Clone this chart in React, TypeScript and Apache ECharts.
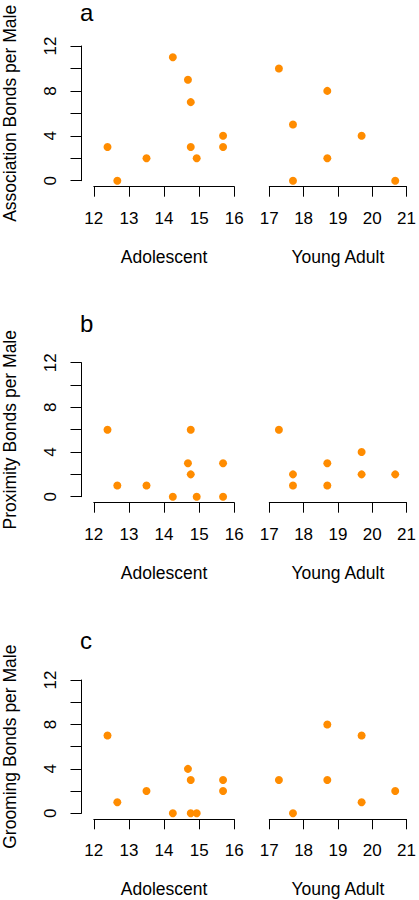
import React, { useEffect, useRef } from "react";
import * as echarts from "echarts";

// ---- data ----
const panelLetters = ["a", "b", "c"];
const yTitles = [
  "Association Bonds per Male",
  "Proximity Bonds per Male",
  "Grooming Bonds per Male",
];
const groupNames = ["Adolescent", "Young Adult"];
const yTicks = [0, 4, 8, 12];

const adolAges = [12.39, 12.67, 13.5, 14.25, 14.68, 14.76, 14.76, 14.93, 15.68, 15.68];
const assocAdol = [3, 0, 2, 11, 9, 7, 3, 2, 4, 3];
const proxAdol = [6, 1, 1, 0, 3, 6, 2, 0, 3, 0];
const groomAdol = [7, 1, 2, 0, 4, 3, 0, 0, 3, 2];

const assocYoungAges = [17.28, 17.69, 17.69, 18.69, 18.69, 19.69, 20.67];
const assocYoung = [10, 5, 0, 8, 2, 4, 0];
const proxYoungAges = [17.28, 17.69, 17.69, 18.69, 18.69, 19.69, 19.69, 20.67];
const proxYoung = [6, 2, 1, 3, 1, 4, 2, 2];
const groomYoungAges = [17.28, 17.69, 18.69, 18.69, 19.69, 19.69, 20.67];
const groomYoung = [3, 0, 8, 3, 7, 1, 2];

const panels = [
  { adolX: adolAges, adolY: assocAdol, youngX: assocYoungAges, youngY: assocYoung },
  { adolX: adolAges, adolY: proxAdol, youngX: proxYoungAges, youngY: proxYoung },
  { adolX: adolAges, adolY: groomAdol, youngX: groomYoungAges, youngY: groomYoung },
];

// ---- layout ----
const rowTops = [46, 362.7, 680];
const rowHeights = [134.7, 134, 133.3];
const letterMidY = [12.5, 323.5, 640];
const gridLeftX = [92.3, 269.3];
const gridWidths = [142, 143];
const xRanges = [
  [12, 16],
  [17, 21],
];
const FONT = "Liberation Sans, Arial, Helvetica, sans-serif";
const DOT = "#FF8C00";

export default function App() {
  const ref = useRef<HTMLDivElement>(null);

  useEffect(() => {
    document.body.style.margin = "0";
    if (!ref.current) return;
    const chart = echarts.init(ref.current, null, { renderer: "svg" });

    const grid: any[] = [];
    const xAxis: any[] = [];
    const yAxis: any[] = [];
    const series: any[] = [];
    const graphic: any[] = [];

    panels.forEach((p, r) => {
      for (let c = 0; c < 2; c++) {
        const idx = r * 2 + c;
        grid.push({
          left: gridLeftX[c],
          top: rowTops[r],
          width: gridWidths[c],
          height: rowHeights[r],
          containLabel: false,
        });
        xAxis.push({
          type: "value",
          gridIndex: idx,
          min: xRanges[c][0],
          max: xRanges[c][1],
          interval: 1,
          offset: 6,
          name: groupNames[c],
          nameLocation: "middle",
          nameGap: 61,
          nameTextStyle: { fontFamily: FONT, fontSize: 17.5, color: "#000" },
          axisLine: { show: true, onZero: false, lineStyle: { color: "#000", width: 1 } },
          axisTick: { show: true, length: 10, lineStyle: { color: "#000", width: 1 } },
          axisLabel: {
            show: true,
            margin: 22.8,
            fontFamily: FONT,
            fontSize: 17,
            color: "#000",
            showMinLabel: true,
            showMaxLabel: true,
            hideOverlap: false,
          },
          splitLine: { show: false },
        });
        yAxis.push({
          type: "value",
          gridIndex: idx,
          min: 0,
          max: 12,
          interval: 2,
          show: c === 0,
          offset: 12.3,
          name: c === 0 ? yTitles[r] : "",
          nameLocation: "middle",
          nameGap: 62.5,
          nameTextStyle: { fontFamily: FONT, fontSize: 17.5, color: "#000" },
          axisLine: { show: true, onZero: false, lineStyle: { color: "#000", width: 1 } },
          axisTick: { show: true, length: 11, lineStyle: { color: "#000", width: 1 } },
          axisLabel: {
            show: true,
            rotate: 90,
            margin: 22.5,
            fontFamily: FONT,
            fontSize: 17,
            color: "#000",
            formatter: (v: number) => (yTicks.includes(v) ? String(v) : ""),
          },
          splitLine: { show: false },
        });
        const xs = c === 0 ? p.adolX : p.youngX;
        const ys = c === 0 ? p.adolY : p.youngY;
        series.push({
          type: "scatter",
          xAxisIndex: idx,
          yAxisIndex: idx,
          symbol: "circle",
          symbolSize: 8,
          clip: false,
          itemStyle: { color: DOT, opacity: 1 },
          data: xs.map((x, i) => [x, ys[i]]),
        });
      }
      graphic.push({
        type: "text",
        x: 80,
        y: letterMidY[r],
        style: {
          text: panelLetters[r],
          fontFamily: FONT,
          fontSize: 24,
          fill: "#000",
          align: "left",
          verticalAlign: "middle",
        },
      });
    });

    chart.setOption({
      animation: false,
      backgroundColor: "#fff",
      grid,
      xAxis,
      yAxis,
      series,
      graphic,
    });

    return () => chart.dispose();
  }, []);

  return <div ref={ref} style={{ width: 419, height: 900 }} />;
}
